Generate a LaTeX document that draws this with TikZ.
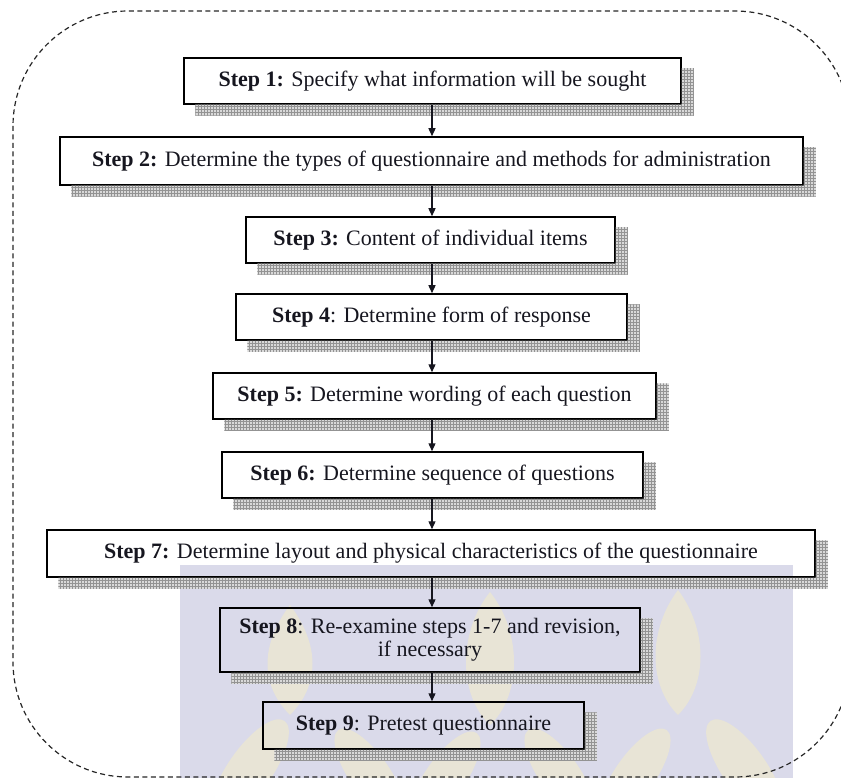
\documentclass[tikz,border=0pt]{standalone}
\usepackage{fontspec}
\setmainfont{Liberation Serif}
\usetikzlibrary{arrows.meta,patterns,calc}
\definecolor{txt}{HTML}{16161F}
\definecolor{wmbg}{HTML}{DADAEA}
\definecolor{wmleaf}{HTML}{E8E4D6}
\newcommand\mkshadow[1]{%
  \fill[shadowfill] ($(#1.south west)+(12pt,0)$) -- (#1.south east) -- ($(#1.north east)+(0,-11pt)$) -- ($(#1.north east)+(12pt,-11pt)$) -- ($(#1.south east)+(12pt,-11pt)$) -- ($(#1.south west)+(12pt,-11pt)$) -- cycle;}
\newcommand\mkleaf[4]{% x, top, bottom, half width
  \fill[wmleaf] (#1,#2) .. controls (#1+#4,#2+40) and (#1+#4,#3-30) .. (#1,#3) .. controls (#1-#4,#3-30) and (#1-#4,#2+40) .. (#1,#2);}
\begin{document}
\begin{tikzpicture}[x=1pt,y=-1pt,
  stepbox/.style={draw=black, line width=1.5pt, inner sep=0pt, align=center,
    font=\fontsize{22}{23}\selectfont, text=txt},
  shadowfill/.style={fill=gray!30, postaction={pattern=grid, pattern color=gray!85}},
  arr/.style={-{Triangle[length=8pt,width=7pt]}, line width=1.3pt, draw=txt, fill=txt},
  outer/.style={draw=black!85, line width=1.2pt, dash pattern=on 5pt off 3.5pt, rounded corners=115pt}]
\useasboundingbox (0,0) rectangle (841,778);
% watermark
\fill[wmbg] (180,565) rectangle (793,778);
\begin{scope}
\clip (180,565) rectangle (793,778);
\mkleaf{290}{605}{715}{30}
\mkleaf{490}{592}{725}{32}
\mkleaf{678}{590}{715}{30}
\fill[wmleaf, rotate around={-35:(250,770)}] (250,770) ellipse (22pt and 60pt);
\fill[wmleaf, rotate around={35:(370,775)}] (370,775) ellipse (20pt and 55pt);
\fill[wmleaf, rotate around={-35:(445,778)}] (445,778) ellipse (20pt and 55pt);
\fill[wmleaf, rotate around={35:(560,775)}] (560,775) ellipse (20pt and 55pt);
\fill[wmleaf, rotate around={-35:(635,775)}] (635,775) ellipse (20pt and 55pt);
\fill[wmleaf, rotate around={35:(745,770)}] (745,770) ellipse (22pt and 60pt);
\end{scope}
% outer dashed frame
\draw[outer] (13,11) rectangle (850,777);
% boxes
\node[stepbox, minimum width=497pt, minimum height=46pt] (b1) at (432.5,81)
  {\textbf{Step 1:} Specify what information will be sought};
\node[stepbox, minimum width=743pt, minimum height=48pt] (b2) at (431.5,161)
  {\textbf{Step 2:} Determine the types of questionnaire and methods for administration};
\node[stepbox, minimum width=369pt, minimum height=46pt] (b3) at (430.5,240)
  {\textbf{Step 3:} Content of individual items};
\node[stepbox, minimum width=391pt, minimum height=46pt] (b4) at (431.5,317)
  {\textbf{Step 4}: Determine form of response};
\node[stepbox, minimum width=443pt, minimum height=46pt] (b5) at (434.5,396)
  {\textbf{Step 5:} Determine wording of each question};
\node[stepbox, minimum width=421pt, minimum height=46pt] (b6) at (432.5,475)
  {\textbf{Step 6:} Determine sequence of questions};
\node[stepbox, minimum width=768pt, minimum height=47pt] (b7) at (431,553.5)
  {\textbf{Step 7:} Determine layout and physical characteristics of the questionnaire};
\node[stepbox, minimum width=420pt, minimum height=64pt] (b8) at (430,640)
  {\textbf{Step 8}: Re-examine steps 1-7 and revision,\\ if necessary};
\node[stepbox, minimum width=321pt, minimum height=47pt] (b9) at (423.5,725.5)
  {\textbf{Step 9}: Pretest questionnaire};
% shadows
\foreach \n in {b1,b2,b3,b4,b5,b6,b7,b8,b9} {\mkshadow{\n}}
% arrows
\coordinate (ax) at (432,0);
\draw[arr] (b1.south -| ax) -- (b2.north -| ax);
\draw[arr] (b2.south -| ax) -- (b3.north -| ax);
\draw[arr] (b3.south -| ax) -- (b4.north -| ax);
\draw[arr] (b4.south -| ax) -- (b5.north -| ax);
\draw[arr] (b5.south -| ax) -- (b6.north -| ax);
\draw[arr] (b6.south -| ax) -- (b7.north -| ax);
\draw[arr] (b7.south -| ax) -- (b8.north -| ax);
\draw[arr] (b8.south -| ax) -- (b9.north -| ax);
\end{tikzpicture}
\end{document}
